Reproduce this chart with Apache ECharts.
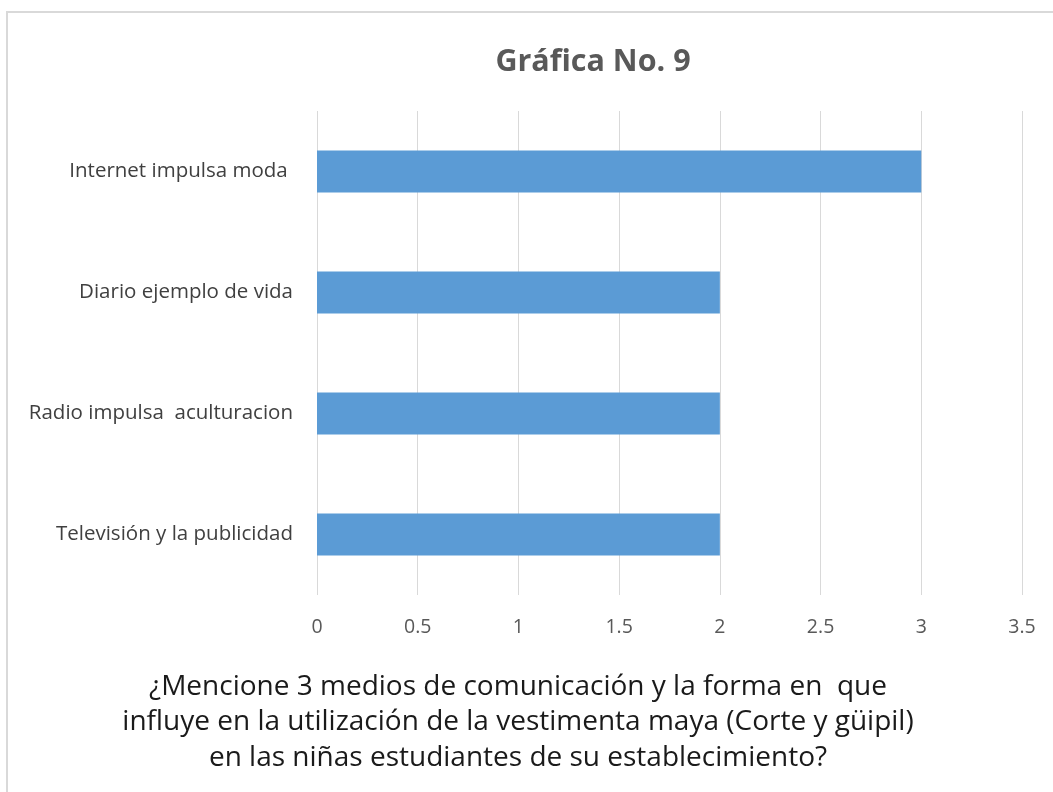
<!DOCTYPE html>
<html>
<head>
<meta charset="utf-8">
<script src="https://cdn.jsdelivr.net/npm/echarts@6/dist/echarts.min.js"></script>
<style>
html,body{margin:0;padding:0;background:#fff;}
#chart{width:1053px;height:792px;}
</style>
</head>
<body>
<div id="chart"></div>
<script>
const categories = ["Internet impulsa moda ", "Diario ejemplo de vida", "Radio impulsa  aculturacion", "Televisión y la publicidad"];
const values = [3, 2, 2, 2];
const xTicks = [0, 0.5, 1, 1.5, 2, 2.5, 3, 3.5];
const chartTitle = "Gráfica No. 9";
const axisTitleLines = [
  "¿Mencione 3 medios de comunicación y la forma en  que",
  "influye en la utilización de la vestimenta maya (Corte y güipil)",
  "en las niñas estudiantes de su establecimiento?"
];

const FONT = "'Open Sans', 'Noto Sans', sans-serif";
const chart = echarts.init(document.getElementById('chart'), null, {renderer: 'canvas'});

const graphics = [
  {type: 'rect', shape: {x: 7, y: 12, width: 1200, height: 900}, style: {fill: 'none', stroke: '#D9D9D9', lineWidth: 2}, silent: true, z: -10},
  {type: 'text', x: 593, y: 62, style: {text: chartTitle, font: "bold 30.5px " + FONT, fill: '#595959', textAlign: 'center', textVerticalAlign: 'middle'}}
];
axisTitleLines.forEach((t, i) => {
  graphics.push({type: 'text', x: 518, y: 687 + i * 35.5, style: {text: t, font: "28px " + FONT, fill: '#1a1a1a', textAlign: 'center', textVerticalAlign: 'middle'}});
});

chart.setOption({
  animation: false,
  grid: {left: 317, right: 31, top: 111, bottom: 197, containLabel: false},
  xAxis: {
    type: 'value', min: xTicks[0], max: xTicks[xTicks.length - 1], interval: xTicks[1] - xTicks[0],
    axisLine: {show: false}, axisTick: {show: false},
    splitLine: {show: true, lineStyle: {color: '#D9D9D9', width: 1}},
    axisLabel: {color: '#595959', fontSize: 19.5, fontFamily: FONT, margin: 22,
      formatter: v => String(v)}
  },
  yAxis: {
    type: 'category', data: categories, inverse: true,
    axisLine: {show: false}, axisTick: {show: false},
    axisLabel: {color: '#404040', fontSize: 20.5, fontFamily: FONT, margin: 24}
  },
  series: [{
    type: 'bar', data: values, barWidth: 42,
    itemStyle: {color: '#5B9BD5'}
  }],
  graphic: graphics
});
</script>
</body>
</html>
